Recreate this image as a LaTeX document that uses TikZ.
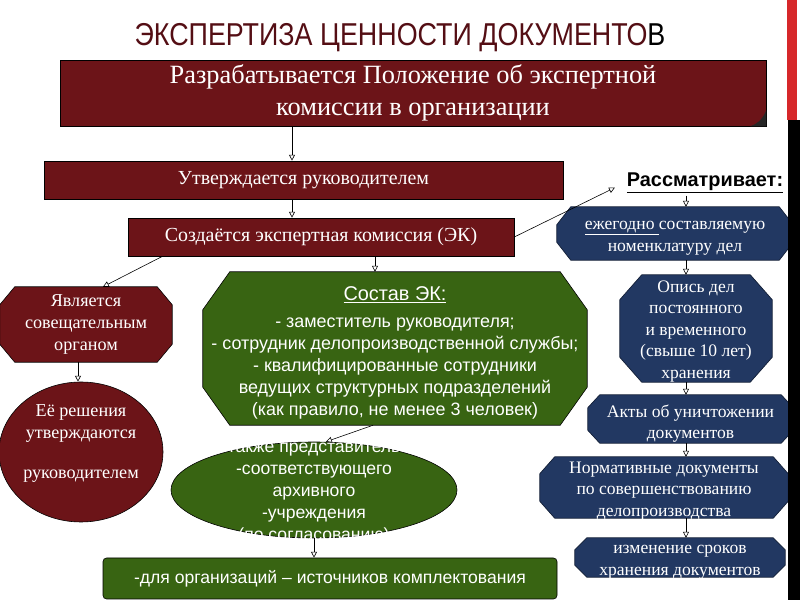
\documentclass[tikz,border=0pt]{standalone}
\usepackage{fontspec}
\setmainfont{Liberation Serif}
\setsansfont{Liberation Sans}
\usetikzlibrary{arrows.meta,positioning,shapes.geometric,calc,backgrounds}
\definecolor{Bordo}{RGB}{108,20,24}
\definecolor{TitleRed}{RGB}{84,14,20}
\definecolor{Leaf}{RGB}{56,100,18}
\definecolor{Navy}{RGB}{34,56,98}
\definecolor{BarRed}{RGB}{214,40,42}
\newcommand{\px}{0.03cm}
% octagon behind a named node: name, chamfer x, chamfer y, style
\newcommand{\octa}[4]{%
  \path[#4] ($(#1.north west)+(#2,0)$) -- ($(#1.north east)+(-#2,0)$)
    -- ($(#1.north east)+(0,#3)$) -- ($(#1.south east)+(0,-#3)$)
    -- ($(#1.south east)+(-#2,0)$) -- ($(#1.south west)+(#2,0)$)
    -- ($(#1.south west)+(0,-#3)$) -- ($(#1.north west)+(0,#3)$) -- cycle;}

\begin{document}
\begin{tikzpicture}[x=0.03cm,y=-0.03cm,
  wd/.style={minimum width=#1*\px},
  ht/.style={minimum height=#1*\px},
  redbox/.style={rectangle,draw=black,line width=0.5pt,fill=Bordo,text=white,
                 inner sep=0pt,font=\fontsize{17}{20}\selectfont},
  redtxt/.style={rectangle,text=white,inner sep=0pt,align=center,
                 font=\fontsize{15.5}{18.8}\selectfont},
  redfill/.style={draw=black,line width=0.5pt,fill=Bordo},
  redell/.style={ellipse,draw=black,line width=0.5pt,fill=Bordo,inner sep=0pt},
  greenlbl/.style={text=white,align=center,yshift=-4pt,
                   font=\sffamily\fontsize{15.3}{18.9}\selectfont},
  greenfill/.style={draw=black,line width=0.5pt,fill=Leaf},
  greenell/.style={ellipse,draw=black,line width=0.5pt,fill=Leaf,inner sep=0pt},
  greenbox/.style={rectangle,rounded corners=3pt,draw=black,line width=0.5pt,
                   fill=Leaf,text=white,inner sep=0pt,
                   font=\sffamily\fontsize{15}{18}\selectfont},
  plain/.style={rectangle,inner sep=0pt},
  navylbl/.style={text=white,align=center,yshift=-4pt,
                  font=\fontsize{15}{18.4}\selectfont},
  navyfill/.style={draw=Navy!55!black,line width=0.6pt,fill=Navy},
  lbl/.style={text=white,align=center},
  arr/.style={-{Triangle[open,length=5pt,width=5pt]},line width=0.5pt,black},
]
\useasboundingbox (0,0) rectangle (800,600);

%% edge bar
\fill[BarRed] (787,0) rectangle (797,120);
\fill[black] (788,120) rectangle (800,600);

%% title and main chain
\node[text=TitleRed,font=\sffamily\fontsize{27}{30}\selectfont] (ttl) at (400,38)
  {\scalebox{0.85}[1]{ЭКСПЕРТИЗА ЦЕННОСТИ ДОКУМЕНТО\textcolor{black}{В}}};
\node[redbox,wd=706,ht=66,align=center,font=\fontsize{22.5}{27.3}\selectfont]
  (polozh) at (413,93) {Разрабатывается Положение об экспертной\\комиссии в организации};
\fill[black!85] ($(polozh.south east)+(0,-16)$)
  .. controls ($(polozh.south east)+(-4,-6)$) and ($(polozh.south east)+(-10,-2)$)
  .. ($(polozh.south east)+(-16,0)$) -- (polozh.south east) -- cycle;
\node[redbox,wd=519,ht=38] (utv) at (303.5,180) {Утверждается руководителем};
\node[redbox,wd=386,ht=38] (sozd) at (321,237) {Создаётся экспертная комиссия (ЭК)};

%% left column
\node[redtxt,wd=172,ht=75] (yavl) at (86,324.5) {Является\\совещательным\\органом};
\node[redell,wd=164,ht=140,
      label={[lbl,yshift=7pt,font=\fontsize{15.5}{18.8}\selectfont]center:{Её решения\\утверждаются\\[15pt]руководителем}}]
  (resh) at (81,452) {};

%% centre
\node[plain,wd=384,ht=153,
      label={[greenlbl]center:{{\fontsize{17}{20}\selectfont\underline{Состав ЭК:}}\\[4pt]
   - заместитель руководителя;\\
   - сотрудник делопроизводственной службы;\\
   - квалифицированные сотрудники\\
   ведущих структурных подразделений\\
   (как правило, не менее 3 человек)}}] (sostav) at (395,348.5) {};
\node[greenell,wd=286,ht=96,
      label={[lbl,yshift=-3pt,font=\sffamily\fontsize{15}{18.6}\selectfont]center:{также представитель\\-соответствующего\\архивного\\-учреждения\\(по согласованию)}}]
  (predst) at (314,490) {};
\node[greenbox,wd=454,ht=41] (kompl) at (330,578.5)
  {-для организаций – источников комплектования};

%% right column
\node[font=\sffamily\bfseries\fontsize{17}{20}\selectfont,inner sep=2pt]
  (rassm) at (705,183) {\underline{Рассматривает:}};
\node[plain,wd=236,ht=53,
      label={[navylbl]center:{\underline{ежегодно\ }составляемую\\номенклатуру дел}}]
  (nomen) at (675,233.5) {};
\node[plain,wd=152,ht=107,
      label={[navylbl,yshift=1.5pt]center:{Опись дел\\постоянного\\и временного\\(свыше 10 лет)\\хранения}}]
  (opis) at (696,328.5) {};
\node[plain,wd=205,ht=48,
      label={[navylbl]center:{Акты об уничтожении\\документов}}]
  (akty) at (690.5,419) {};
\node[plain,wd=248,ht=61,
      label={[navylbl,yshift=1pt]center:{Нормативные документы\\по совершенствованию\\делопроизводства}}]
  (norm) at (664,487.5) {};
\node[plain,wd=210,ht=39,
      label={[navylbl]center:{изменение сроков\\хранения документов}}]
  (izm) at (680,557.5) {};

%% octagon outlines
\begin{scope}[on background layer]
  \octa{yavl}{15}{18}{redfill}
  \octa{sostav}{27}{38}{greenfill}
  \octa{nomen}{14}{18}{navyfill}
  \octa{opis}{22}{25}{navyfill}
  \octa{akty}{12}{13}{navyfill}
  \octa{norm}{15}{17}{navyfill}
  \octa{izm}{12}{12}{navyfill}
\end{scope}

%% connectors
\coordinate (lspine) at (292,0);
\coordinate (rspine) at (686,0);
\draw[arr] (polozh.south -| lspine) -- (utv.north -| lspine);
\draw[arr] (utv.south -| lspine) -- (sozd.north -| lspine);
\draw[arr,shorten >=9pt] (sozd.east) -- (rassm.west);
\draw[arr] ($(sozd.south west)!0.09!(sozd.south east)$) -- ($(yavl.north)+(17,0)$);
\draw[arr] ($(sozd.south)+(54,0)$) coordinate (s1) -- (s1 |- sostav.north);
\draw[arr] ($(yavl.south)+(-8,0)$) coordinate (y1) -- (y1 |- resh.north);
\draw[arr] ($(sostav.south)+(-22,0)$) -- ($(predst.north)+(12,0)$);
\draw[arr] (predst.south) -- (predst.south |- kompl.north);
\draw[arr] (rassm.south -| rspine) -- (nomen.north -| rspine);
\foreach \a/\b in {nomen/opis,opis/akty,akty/norm,norm/izm}
  \draw[arr] (\a.south -| rspine) -- (\b.north -| rspine);

\end{tikzpicture}
\end{document}
